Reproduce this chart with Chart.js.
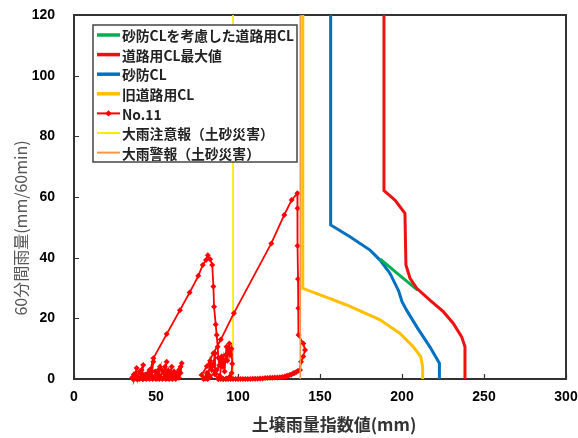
<!DOCTYPE html>
<html>
<head>
<meta charset="utf-8">
<script src="https://cdn.jsdelivr.net/npm/chart.js@4/dist/chart.umd.min.js"></script>
<style>
  html, body { margin: 0; padding: 0; background: #fff; }
  #wrap { width: 578px; height: 438px; }
</style>
</head>
<body>
<div id="wrap"><canvas id="c" width="578" height="438"></canvas></div>
<script>
// Axis ticks
const indexTicks = [0, 50, 100, 150, 200, 250, 300];      // 土壌雨量指数値 (mm)
const rainTicks = [0, 20, 40, 60, 80, 100, 120];          // 60分間雨量 (mm/60min)

// 砂防CLを考慮した道路用CL (connector between 砂防CL and 道路用CL最大値)
const adjIndex = [186.6, 198.0, 209.5];
const adjRain  = [39.6, 34.4, 29.3];

// 道路用CL最大値
const roadMaxIndex = [189.0, 189.0, 195.7, 201.8, 202.4, 204.9, 209.0, 217.0, 225.2, 231.3, 236.4, 238.4, 238.4];
const roadMaxRain  = [120, 62.1, 59.0, 54.6, 37.6, 33.2, 29.9, 26.0, 22.2, 18.3, 13.9, 10.6, 0];

// 砂防CL
const sabouIndex = [156.5, 156.5, 168.3, 180.5, 186.6, 192.7, 198.0, 200.0, 202.8, 209.0, 217.0, 222.8, 222.8];
const sabouRain  = [120, 50.8, 46.9, 42.5, 39.2, 34.8, 29.0, 25.5, 22.7, 17.2, 10.6, 5.2, 0];

// 旧道路用CL
const oldRoadIndex = [139.5, 139.5, 166.3, 186.6, 198.8, 206.9, 211.4, 212.6, 212.6];
const oldRoadRain  = [120, 29.9, 24.4, 19.5, 15.0, 10.6, 7.4, 4.0, 0];

// No.11 snake line (soil water index vs hourly rainfall), in time order
const no11Index = [
  // long dry spell with small showers
  35.5, 36.0, 36.5, 37.2, 38.2, 37.6, 37.0, 37.5, 38.5, 39.0, 40.0, 40.5, 41.2, 42.2, 41.5, 40.8,
  41.5, 42.5, 43.5, 44.5, 45.2, 46.0, 47.0, 48.4, 47.6, 46.8, 47.5, 48.5, 49.5, 50.5, 51.5, 52.4,
  51.6, 50.8, 51.5, 52.8, 53.6, 54.5, 55.5, 56.5, 55.8, 55.0, 55.8, 56.8, 57.5, 58.0, 58.8, 59.6,
  59.0, 58.2, 59.0, 60.0, 61.0, 62.0, 63.0, 64.0, 65.0, 65.7, 65.0, 64.0, 63.0, 62.0, 61.0, 60.0,
  59.0, 58.0, 57.0, 56.0, 55.0, 54.0, 53.0, 52.0, 51.0, 50.0, 49.0, 48.0, 47.0, 46.0, 45.0, 44.0,
  43.0, 42.0, 41.0, 40.0, 39.0, 38.0, 37.0, 36.0, 37.5, 39.0, 40.5, 42.0, 43.5, 44.5, 45.5,
  // first rain event
  48.4, 56.5, 64.6, 70.5, 75.8, 78.5, 80.5, 81.6, 83.0, 84.3, 85.0, 85.4, 86.4, 87.0, 87.6, 88.0, 88.5,
  // showers between events
  89.5, 90.0, 90.5, 91.0, 91.8, 92.5, 93.0, 93.5, 94.2, 94.7, 95.2, 96.0, 96.5, 96.1, 95.0, 93.0,
  91.0, 89.5, 88.0, 86.0, 86.0, 85.0, 84.0, 83.0, 82.0, 80.5, 79.0, 81.0, 84.0, 87.0, 90.0, 89.0,
  86.0, 83.0, 81.5, 80.0, 77.8,
  // second rain event
  81.0, 85.0, 89.5, 97.5, 120.3, 128.2, 132.7, 136.2,
  136.3, 136.3, 136.6, 136.8, 136.9, 139.8, 140.9, 139.8, 138.4, 137.8,
  // recession
  136.5, 135.5, 134.5, 133.7, 132.5, 131.5, 130.5, 129.7, 128.5, 127.0, 125.5, 124.0, 122.5, 121.0,
  119.5, 118.0, 116.5, 115.0, 113.5, 112.0, 110.5, 109.0, 107.5, 106.0, 104.5, 103.0, 101.5, 100.0,
  98.5, 97.0, 95.5, 94.0, 92.5, 91.0, 89.5, 88.0
];
const no11Rain = [
  0.5, 0.0, 1.5, 0.8, 3.6, 1.0, 0.2, 1.8, 0.6, 0.5, 2.5, 2.0, 3.0, 4.6, 1.8, 0.3,
  0.8, 0.2, 1.5, 1.0, 2.0, 3.0, 1.2, 5.7, 2.5, 0.5, 1.0, 0.3, 2.5, 1.5, 3.0, 4.0,
  1.2, 0.2, 1.5, 0.4, 3.0, 2.0, 4.0, 5.7, 2.6, 0.6, 1.8, 0.3, 2.8, 1.5, 2.5, 4.0,
  1.4, 0.2, 2.0, 0.3, 2.5, 1.0, 2.0, 3.0, 4.0, 5.2, 2.0, 0.4, 1.5, 0.0, 0.6, 0.0,
  0.5, 0.0, 0.6, 0.0, 0.4, 0.0, 0.5, 0.0, 0.4, 0.0, 0.5, 0.0, 0.3, 0.0, 0.5, 0.0,
  0.4, 0.0, 0.5, 0.0, 0.3, 0.0, 0.4, 0.0, 0.5, 0.0, 0.4, 0.0, 0.6, 0.2, 1.0,
  6.8, 14.8, 22.7, 28.5, 34.0, 37.6, 39.2, 40.8, 39.5, 37.6, 30.5, 23.8, 18.0, 14.5, 10.6, 7.0, 4.5,
  7.0, 7.4, 4.0, 6.5, 2.5, 8.0, 10.6, 6.0, 9.5, 11.7, 8.0, 10.0, 5.0, 2.0, 0.8, 0.2,
  0.0, 0.5, 0.0, 1.5, 8.5, 5.0, 3.0, 6.0, 1.5, 0.3, 0.0, 2.0, 4.5, 3.0, 5.5, 1.0,
  2.5, 0.5, 0.0, 0.2, 1.3,
  4.2, 8.5, 13.0, 21.7, 44.7, 54.1, 59.0, 61.2,
  56.3, 43.9, 33.0, 23.3, 14.5, 11.7, 9.6, 7.4, 5.7, 3.0,
  2.6, 2.3, 2.0, 1.9, 1.5, 1.3, 1.1, 1.0, 0.8, 0.7, 0.6, 0.5, 0.5, 0.4,
  0.4, 0.3, 0.3, 0.2, 0.2, 0.1, 0.1, 0.1, 0.0, 0.0, 0.0, 0.0, 0.0, 0.0,
  0.0, 0.0, 0.0, 0.0, 0.0, 0.0, 0.0, 0.0
];

// 大雨注意報 / 大雨警報 (土砂災害) thresholds
const cautionIndex = [97, 97];
const cautionRain  = [0, 120];
const warningIndex = [138, 138];
const warningRain  = [0, 120];

const pts = (xs, ys) => xs.map((x, i) => ({ x: x, y: ys[i] }));

const CJK = '"Noto Sans CJK JP", "Noto Sans", sans-serif';
const LATIN = '"Liberation Sans", Arial, sans-serif';

const line = (label, xs, ys, color, width, order) => ({
  label: label,
  data: pts(xs, ys),
  showLine: true,
  borderColor: color,
  backgroundColor: color,
  borderWidth: width,
  pointRadius: 0,
  pointHoverRadius: 0,
  tension: 0,
  order: order
});

const datasets = [
  line('砂防CLを考慮した道路用CL', adjIndex, adjRain, '#00B050', 3, 1),
  line('道路用CL最大値', roadMaxIndex, roadMaxRain, '#EE1111', 3, 0),
  line('砂防CL', sabouIndex, sabouRain, '#0070C0', 3, 2),
  line('旧道路用CL', oldRoadIndex, oldRoadRain, '#FFC000', 3, 4),
  Object.assign(line('No.11', no11Index, no11Rain, '#FF0000', 1.8, 5), {
    pointRadius: 3, pointStyle: 'rectRot', pointBorderWidth: 0, pointBackgroundColor: '#FF0000',
    clip: 6
  }),
  line('大雨注意報（土砂災害）', cautionIndex, cautionRain, '#F8EC00', 1.8, 6),
  line('大雨警報（土砂災害）', warningIndex, warningRain, '#F79646', 1.6, 3)
];

// Plot frame and inward tick marks (under the data), then legend and axis titles (on top)
const decorations = {
  id: 'decorations',
  beforeDatasetsDraw(chart) {
    const { ctx, chartArea: a, scales } = chart;
    ctx.save();
    ctx.strokeStyle = '#333';
    ctx.lineWidth = 2;
    ctx.strokeRect(a.left, a.top, a.right - a.left, a.bottom - a.top);
    ctx.lineWidth = 1.2;
    ctx.beginPath();
    indexTicks.forEach(v => {
      const px = Math.round(scales.x.getPixelForValue(v)) + 0.5;
      ctx.moveTo(px, a.bottom); ctx.lineTo(px, a.bottom - 5);
    });
    rainTicks.forEach(v => {
      const py = Math.round(scales.y.getPixelForValue(v)) + 0.5;
      ctx.moveTo(a.left, py); ctx.lineTo(a.left + 5, py);
    });
    ctx.stroke();
    ctx.restore();
  },
  afterDatasetsDraw(chart) {
    const { ctx } = chart;
    ctx.save();
    // legend box
    const lx = 93, ly = 25, lw = 204, lh = 137;
    ctx.fillStyle = '#fff';
    ctx.fillRect(lx, ly, lw, lh);
    ctx.strokeStyle = '#444';
    ctx.lineWidth = 1.5;
    ctx.strokeRect(lx, ly, lw, lh);
    ctx.font = 'bold 13.8px ' + CJK;
    ctx.textBaseline = 'middle';
    ctx.textAlign = 'left';
    chart.data.datasets.forEach((ds, i) => {
      const y = 35 + i * 19.6;
      ctx.strokeStyle = ds.borderColor;
      ctx.lineWidth = ds.borderWidth >= 3 ? 3.5 : 2;
      ctx.beginPath();
      ctx.moveTo(97, y); ctx.lineTo(120, y);
      ctx.stroke();
      if (ds.pointRadius > 0) {
        ctx.fillStyle = ds.borderColor;
        ctx.beginPath();
        ctx.moveTo(108.5, y - 3.2); ctx.lineTo(111.7, y); ctx.lineTo(108.5, y + 3.2); ctx.lineTo(105.3, y);
        ctx.closePath();
        ctx.fill();
      }
      ctx.fillStyle = '#222';
      ctx.fillText(ds.label, 122, y + 1);
    });

    // axis titles
    ctx.fillStyle = '#333';
    ctx.font = 'bold 17px ' + CJK;
    ctx.textAlign = 'center';
    ctx.fillText('土壌雨量指数値(mm)', 334, 425);
    ctx.save();
    ctx.translate(21, 228);
    ctx.rotate(-Math.PI / 2);
    ctx.fillStyle = '#555';
    ctx.font = '16px ' + CJK;
    ctx.fillText('60分間雨量(mm/60min)', 0, 0);
    ctx.restore();
    ctx.restore();
  }
};

new Chart(document.getElementById('c'), {
  type: 'scatter',
  data: { datasets: datasets },
  options: {
    responsive: false,
    animation: false,
    events: [],
    layout: { padding: { left: 0, right: 12, top: 15, bottom: 0 } },
    plugins: { legend: { display: false }, tooltip: { enabled: false } },
    scales: {
      x: {
        type: 'linear',
        min: indexTicks[0],
        max: indexTicks[indexTicks.length - 1],
        afterFit: s => { s.height = 59; s.paddingLeft = 0; s.paddingRight = 0; },
        grid: { display: false, drawTicks: false },
        border: { display: false },
        ticks: {
          stepSize: 50, padding: 10, color: '#000',
          font: { family: LATIN, size: 14, weight: 'bold' }
        }
      },
      y: {
        type: 'linear',
        min: rainTicks[0],
        max: rainTicks[rainTicks.length - 1],
        afterFit: s => { s.width = 74; s.paddingTop = 0; s.paddingBottom = 0; },
        grid: { display: false, drawTicks: false },
        border: { display: false },
        ticks: {
          stepSize: 20, padding: 19, color: '#000',
          font: { family: LATIN, size: 14, weight: 'bold' }
        }
      }
    }
  },
  plugins: [decorations]
});
</script>
</body>
</html>
